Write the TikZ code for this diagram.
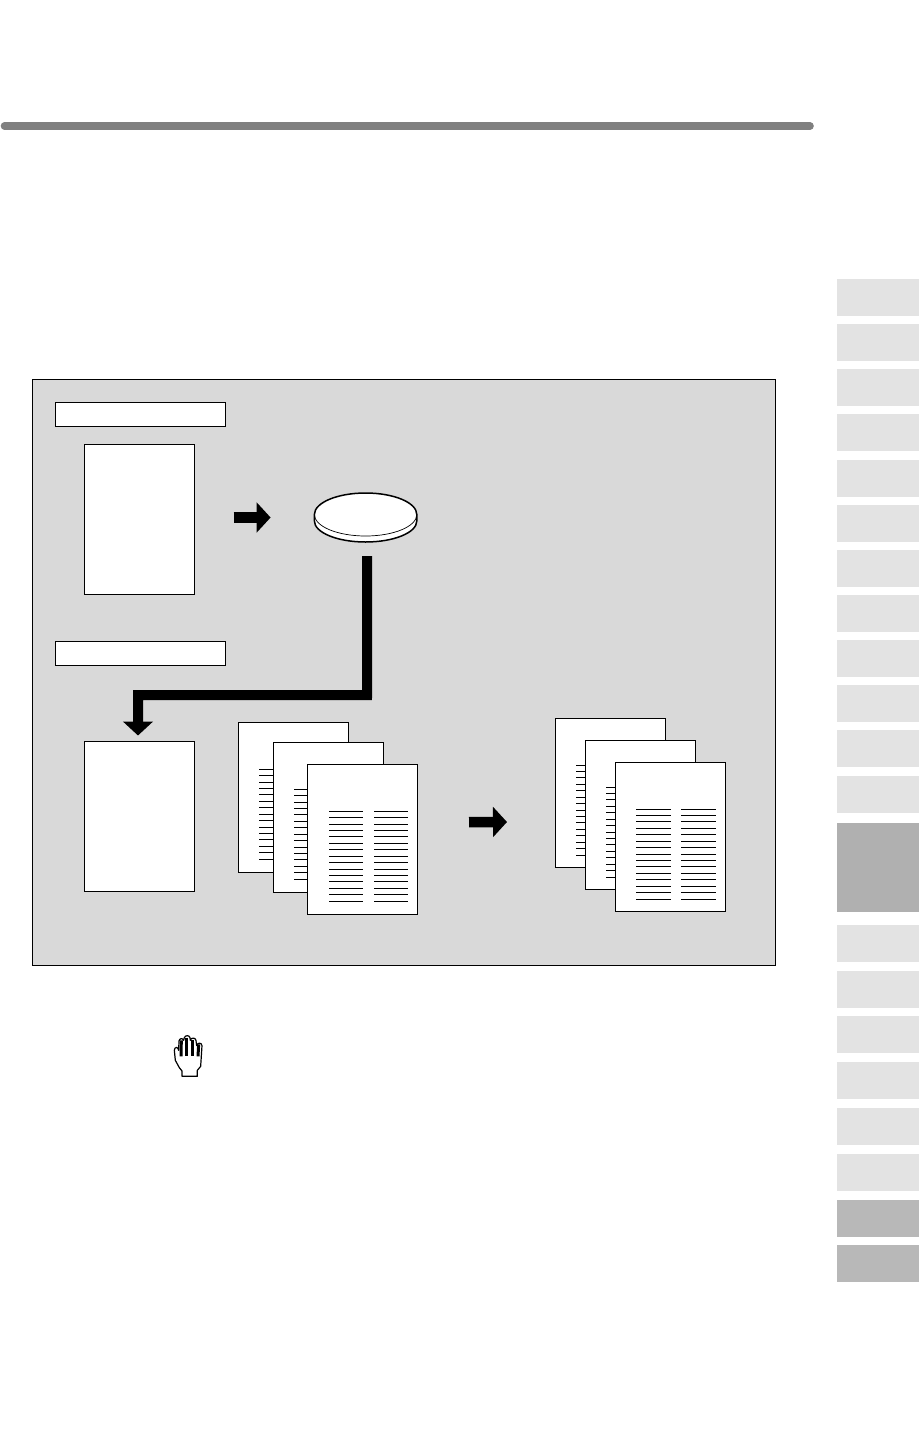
\documentclass[tikz,border=0pt]{standalone}
\usetikzlibrary{arrows.meta,calc}
\definecolor{panelgray}{HTML}{D9D9D9}
\definecolor{tablight}{HTML}{E3E3E3}
\definecolor{tabdark}{HTML}{B0B0B0}
\definecolor{tabmid}{HTML}{B8B8B8}
\definecolor{rulegray}{HTML}{808080}
\tikzset{
  sheet/.style={draw=black,fill=white,line width=1pt,inner sep=0pt,outer sep=0pt,anchor=north west,minimum width=110pt,minimum height=149.5pt},
  labelbox/.style={draw=black,fill=white,line width=1pt,inner sep=0pt,outer sep=0pt,anchor=north west,minimum width=170pt,minimum height=24pt},
  tabbox/.style={fill=tablight,inner sep=0pt,outer sep=0pt,anchor=north west,minimum width=82pt,minimum height=37pt},
  blockarrow/.style={line width=10.5pt,-{Triangle[width=29.6pt,length=14pt]},black},
  textline/.style={line width=1pt,black}
}
% #1 sheet node, #2 x-offset to the column, #3 y-offset of first line, #4 y-list macro, #5 line length
\newcommand{\textcolumn}[5]{%
  \foreach \dy in #4{
    \draw[textline] ($(#1.north west)+(#2,#3+\dy)$) -- ++(#5,0);
  }%
}
\newcommand{\ylistA}{0,6.3,13,19,25.3,32,38.3,45,51.3,58,64,70.3,77.3,83.3,90.3}
\newcommand{\ylistB}{0,6.3,12.3,19.3,25.3,32.3,38.3,45.3,51.3,57.3,64.3,70.3,77.3,83.3,90.3}
\begin{document}
\begin{tikzpicture}[x=1pt,y=-1pt]
\useasboundingbox (0,0) rectangle (919,1443);
\fill[white] (0,0) rectangle (919,1443);
% top rule
\coordinate (ruleL) at (4.5,126);
\coordinate (ruleR) at (810,126);
\draw[rulegray,line width=7.6pt,line cap=round] (ruleL) -- (ruleR);
% side tabs
\foreach \n/\ty in {1/279,2/324,3/369,4/414,5/459.5,6/504.5,7/550,8/595,9/640,10/685,11/730,12/776,14/925,15/970.5,16/1016,17/1061.5,18/1107.5,19/1154}{
  \node[tabbox] (tab\n) at (837,\ty) {};
}
\node[tabbox,fill=tabdark,minimum height=89.3pt] (tab13) at (837,822.7) {};
\node[tabbox,fill=tabmid] (tab20) at (837,1200) {};
\node[tabbox,fill=tabmid] (tab21) at (837,1245) {};
% panel
\node[draw=black,fill=panelgray,line width=0.8pt,inner sep=0pt,anchor=north west,minimum width=742.5pt,minimum height=585.5pt] (panel) at (32.3,379.3) {};
\node[labelbox] (label1) at (55.5,402.5) {};
\node[labelbox] (label2) at (55.5,641.5) {};
% blank originals
\node[sheet,minimum height=150pt] (orig1) at (84.5,444.5) {};
\node[sheet] (orig2) at (84.5,741.5) {};
% disc
\coordinate (discC) at (365.6,514.5);
\coordinate (discL) at (314.4,514.5);
\coordinate (discR) at (416.8,514.5);
\draw[fill=white,line width=1.5pt] (discL) -- ++(0,6.5) arc[start angle=180,end angle=360,x radius=51.2pt,y radius=21pt] -- (discR)
   arc[start angle=0,end angle=180,x radius=51.2pt,y radius=21.5pt] -- cycle;
\draw[line width=0.7pt] (discL) arc[start angle=180,end angle=360,x radius=51.2pt,y radius=21.5pt];
\node[inner sep=0pt,minimum width=103pt,minimum height=50pt] (disc) at (365.6,517.5) {};
% left stack
\node[sheet] (a1) at (238.5,722.5) {};
\textcolumn{a1}{20.5}{46.8}{\ylistA}{34}
\node[sheet] (a2) at (273.5,742.5) {};
\textcolumn{a2}{20.5}{46.8}{\ylistA}{34}
\node[sheet] (a3) at (307.5,764.5) {};
\textcolumn{a3}{21.5}{46.5}{\ylistA}{34}
\textcolumn{a3}{66.5}{46.5}{\ylistA}{34}
% right stack
\node[sheet,minimum height=149pt] (b1) at (555.3,718.3) {};
\textcolumn{b1}{20.7}{46.7}{\ylistB}{35}
\node[sheet,minimum height=149pt] (b2) at (585.3,740.3) {};
\textcolumn{b2}{20.7}{46.7}{\ylistB}{35}
\node[sheet,minimum height=149pt] (b3) at (615.3,762.3) {};
\textcolumn{b3}{20.7}{46.7}{\ylistB}{35}
\textcolumn{b3}{65.7}{46.7}{\ylistB}{35}
% connectors
\coordinate (ar1s) at ($(orig1.east)+(39,-2)$);
\coordinate (ar1e) at ($(disc.west)+(-43.3,0)$);
\draw[blockarrow] (ar1s) -- (ar1e);
\coordinate (cs) at ($(disc.south)+(1.6,13.5)$);
\coordinate (cm1) at (367,695);
\coordinate (cm2) at (138,695);
\coordinate (ce) at ($(orig2.north)+(-1.5,-6)$);
\draw[line width=10pt,black,-{Triangle[width=29.4pt,length=14pt]}] (cs) -- (cm1) -- (cm2) -- (ce);
\coordinate (ar2s) at ($(a3.east)+(51.5,-17.2)$);
\coordinate (ar2e) at ($(b1.west)+(-48.3,29.2)$);
\draw[blockarrow] (ar2s) -- (ar2e);
% hand icon
\begin{scope}[shift={(160,1025)},x=0.3333pt,y=-0.3333pt]
  \draw[fill=white,line width=1.2pt,line join=round] (66,154) -- (112,154) -- (112,136) -- (122,124) -- (126,62) .. controls (125,52) and (112,52) .. (110,62) -- (108,46) .. controls (106,37) and (93,37) .. (91,46) -- (90,38) .. controls (88,30) and (76,30) .. (73,38) -- (71,46) .. controls (68,38) and (58,40) .. (57,48) -- (56,76) .. controls (55,64) and (43,65) .. (43,76) -- (46,106) -- (58,128) -- (66,138) -- cycle;
  \draw[black,line width=3pt] (64,46) -- (63,94);
  \draw[black,line width=3pt] (81,38) -- (81,94);
  \draw[black,line width=3pt] (99,44) -- (99,94);
  \draw[black,line width=3pt] (116,58) -- (114,94);
\end{scope}
\end{tikzpicture}
\end{document}
